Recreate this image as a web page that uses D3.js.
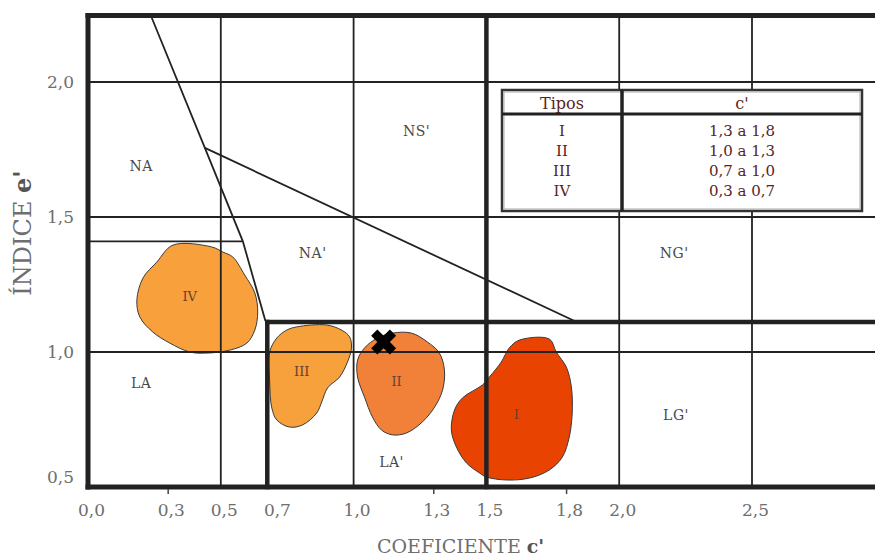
<!DOCTYPE html>
<html>
<head>
<meta charset="utf-8">
<script src="https://cdn.jsdelivr.net/npm/d3@7"></script>
<style>
  body { margin: 0; background: #fff; }
  text { font-family: "DejaVu Serif", "Liberation Serif", serif; }
</style>
</head>
<body>
<svg id="chart" width="875" height="556"></svg>
<script>
// MCT soil classification chart: coefficient c' against index e'

// axis ticks and grid
const xTickValues = [0, 0.3, 0.5, 0.7, 1.0, 1.3, 1.5, 1.8, 2.0, 2.5];
const xMinorTicks = [0.3, 1.3, 1.8];
const yTickValues = [0.5, 1.0, 1.5, 2.0];
const xGridValues = [0.5, 1.0, 2.0, 2.5];
const yGridValues = [1.0, 1.5, 2.0];

// group boundaries (c', e')
const boundaryNA = [[0.235, 2.25], [0.44, 1.756], [0.583, 1.41], [0.668, 1.115]];
const boundaryNS = [[0.44, 1.756], [1.84, 1.111]];
const boundaryLA = [[0, 1.41], [0.583, 1.41]];
const lateriticC = 0.675;   // left edge of the LA' / LG' block
const lateriticE = 1.111;   // top edge of the LA' / LG' block
const sandClayC = 1.5;

// group names
const regionNames = ["NA", "NA'", "NS'", "NG'", "LA", "LA'", "LG'"];
const regionC = [0.20, 0.846, 1.237, 2.207, 0.20, 1.143, 2.214];
const regionE = [1.69, 1.366, 1.819, 1.367, 0.885, 0.593, 0.767];

// soil types
const typeNames = ["I", "II", "III", "IV"];
const typeRanges = ["1,3 a 1,8", "1,0 a 1,3", "0,7 a 1,0", "0,3 a 0,7"];
const typeColors = ["#e84300", "#f18038", "#f6a13b", "#f7a03c"];
const typeLabelC = [1.613, 1.162, 0.805, 0.383];
const typeLabelE = [0.770, 0.889, 0.926, 1.204];

const outlineI = [[1.624,1.044],[1.737,1.048],[1.763,1.000],[1.801,0.944],[1.820,0.870],[1.823,0.774],
  [1.812,0.685],[1.786,0.611],[1.737,0.563],[1.662,0.533],[1.575,0.526],[1.500,0.537],[1.474,0.552],
  [1.425,0.589],[1.387,0.648],[1.368,0.711],[1.380,0.785],[1.410,0.830],[1.485,0.878],[1.511,0.907],
  [1.556,0.963],[1.586,1.015]];
const outlineII = [[1.147,1.070],[1.218,1.070],[1.278,1.037],[1.323,0.996],[1.342,0.933],[1.335,0.859],
  [1.305,0.796],[1.259,0.741],[1.199,0.700],[1.147,0.693],[1.105,0.711],[1.071,0.759],[1.041,0.833],
  [1.015,0.907],[1.015,0.970],[1.041,1.015],[1.090,1.052]];
const outlineIII = [[0.786,1.093],[0.898,1.100],[0.955,1.081],[0.985,1.056],[0.992,1.015],[0.977,0.963],
  [0.947,0.907],[0.902,0.867],[0.880,0.815],[0.861,0.774],[0.808,0.730],[0.759,0.722],[0.711,0.748],
  [0.692,0.793],[0.684,0.889],[0.684,1.000],[0.711,1.052],[0.748,1.081]];
const outlineIV = [[0.320,1.396],[0.466,1.389],[0.508,1.370],[0.545,1.352],[0.590,1.285],[0.628,1.219],
  [0.639,1.148],[0.628,1.081],[0.598,1.033],[0.534,1.007],[0.447,0.996],[0.383,1.000],[0.308,1.033],
  [0.244,1.074],[0.195,1.130],[0.184,1.193],[0.207,1.274],[0.259,1.333]];
const typeOutlines = [outlineI, outlineII, outlineIII, outlineIV];

// tested sample
const sampleC = 1.113;
const sampleE = 1.037;

const svg = d3.select("#chart");
const W = 875;

const x = d3.scaleLinear().domain([0, 2.5]).range([88, 752]);
const y = d3.scaleLinear().domain([0.5, 2.0]).range([487, 82]);
const cMax = x.invert(W + 4);
const eTop = 2.246;

const fmt = v => d3.format(".1f")(v).replace(".", ",");
const ink = "#222";

// soil type areas
const area = d3.line().x(d => x(d[0])).y(d => y(d[1])).curve(d3.curveCatmullRomClosed.alpha(0.5));
svg.append("g").selectAll("path")
  .data(typeOutlines)
  .join("path")
  .attr("d", area)
  .attr("fill", (d, i) => typeColors[i])
  .attr("stroke", "#3a3a3a")
  .attr("stroke-width", 1);

// grid
const grid = svg.append("g").attr("stroke", ink).attr("stroke-width", 1.8);
grid.selectAll(".v").data(xGridValues).join("line")
  .attr("x1", d => x(d)).attr("x2", d => x(d))
  .attr("y1", y(eTop)).attr("y2", y(0.5));
grid.selectAll(".h").data(yGridValues).join("line")
  .attr("x1", x(0)).attr("x2", x(cMax))
  .attr("y1", d => y(d)).attr("y2", d => y(d));

// boundaries between groups
const seg = d3.line().x(d => x(d[0])).y(d => y(d[1]));
svg.append("g").selectAll("path")
  .data([boundaryNA, boundaryNS, boundaryLA])
  .join("path")
  .attr("d", seg)
  .attr("fill", "none")
  .attr("stroke", ink)
  .attr("stroke-width", 1.8);

// heavy lines: lateritic block, c' = 1.5 and the frame
const heavy = svg.append("g").attr("stroke", ink).attr("stroke-width", 5).attr("stroke-linecap", "square");
heavy.append("line").attr("x1", x(lateriticC)).attr("x2", x(lateriticC)).attr("y1", y(lateriticE)).attr("y2", y(0.5)).attr("stroke-width", 4.5);
heavy.append("line").attr("x1", x(lateriticC)).attr("x2", x(cMax)).attr("y1", y(lateriticE)).attr("y2", y(lateriticE)).attr("stroke-width", 4.5);
heavy.append("line").attr("x1", x(sandClayC)).attr("x2", x(sandClayC)).attr("y1", y(eTop)).attr("y2", y(0.5)).attr("stroke-width", 4.5);
heavy.append("line").attr("x1", x(0)).attr("x2", x(0)).attr("y1", y(eTop)).attr("y2", y(0.5));
heavy.append("line").attr("x1", x(0)).attr("x2", x(cMax)).attr("y1", y(eTop)).attr("y2", y(eTop));
heavy.append("line").attr("x1", x(0)).attr("x2", x(cMax)).attr("y1", y(0.5)).attr("y2", y(0.5));

// axes
const xAxis = svg.append("g").attr("transform", `translate(0,${y(0.5) + 2})`)
  .call(d3.axisBottom(x).tickValues(xTickValues).tickFormat(fmt).tickSize(0).tickPadding(15));
xAxis.select(".domain").remove();
xAxis.selectAll("text").attr("dx", 3).attr("font-size", 17).attr("fill", "#6e6e6e")
  .attr("font-family", "Liberation Serif, serif");

const xMinor = svg.append("g").attr("transform", `translate(0,${y(0.5) + 2})`)
  .call(d3.axisBottom(x).tickValues(xMinorTicks).tickFormat("").tickSize(5));
xMinor.select(".domain").remove();
xMinor.selectAll("line").attr("stroke", "#444").attr("stroke-width", 1.5);

const yAxis = svg.append("g").attr("transform", `translate(${x(0) - 2},0)`)
  .call(d3.axisLeft(y).tickValues(yTickValues).tickFormat(fmt).tickSize(0).tickPadding(12));
yAxis.select(".domain").remove();
yAxis.selectAll("text").attr("font-size", 17).attr("fill", "#6e6e6e")
  .attr("font-family", "Liberation Serif, serif")
  .attr("dy", d => d === 0.5 ? "-0.25em" : "0.32em");

// axis titles
const xt = svg.append("text").attr("x", 377).attr("y", 553)
  .attr("font-family", "Liberation Serif, serif").attr("font-size", 19).attr("fill", "#6e6e6e");
xt.append("tspan").text("COEFICIENTE ");
xt.append("tspan").attr("font-weight", "bold").attr("fill", "#555").text("c'");

const yt = svg.append("text").attr("transform", "translate(31,233) rotate(-90)")
  .attr("text-anchor", "middle")
  .attr("font-family", "Liberation Serif, serif").attr("font-size", 24).attr("fill", "#6e6e6e");
yt.append("tspan").text("ÍNDICE ");
yt.append("tspan").attr("font-weight", "bold").attr("fill", "#555").text("e'");

// group names
svg.append("g").selectAll("text")
  .data(regionNames)
  .join("text")
  .attr("x", (d, i) => x(regionC[i]))
  .attr("y", (d, i) => y(regionE[i]))
  .attr("text-anchor", "middle")
  .attr("dominant-baseline", "central")
  .attr("font-size", 14)
  .attr("letter-spacing", 0.5)
  .attr("fill", "#4a4a4a")
  .text(d => d);

// soil type names
svg.append("g").selectAll("text")
  .data(typeNames)
  .join("text")
  .attr("x", (d, i) => x(typeLabelC[i]))
  .attr("y", (d, i) => y(typeLabelE[i]))
  .attr("text-anchor", "middle")
  .attr("dominant-baseline", "central")
  .attr("font-size", 13)
  .attr("fill", "#6a4030")
  .text(d => d);

// sample point
svg.append("path")
  .attr("d", d3.symbol(d3.symbolCross, 390)())
  .attr("transform", `translate(${x(sampleC)},${y(sampleE)}) rotate(45)`)
  .attr("fill", "#000");

// table of c' ranges
const tb = { x0: 502, x1: 862, xm: 622, y0: 90, yh: 114, y1: 211 };
const table = svg.append("g");
table.append("rect").attr("x", tb.x0).attr("y", tb.y0).attr("width", tb.x1 - tb.x0).attr("height", tb.y1 - tb.y0)
  .attr("fill", "#fff").attr("stroke", "#333").attr("stroke-width", 2.5);
table.append("rect").attr("x", tb.x0 + 2).attr("y", tb.y0 + 2).attr("width", tb.x1 - tb.x0 - 4).attr("height", tb.y1 - tb.y0 - 4)
  .attr("fill", "none").attr("stroke", "#aaa").attr("stroke-width", 1);
table.append("line").attr("x1", tb.x0).attr("x2", tb.x1).attr("y1", tb.yh).attr("y2", tb.yh)
  .attr("stroke", "#222").attr("stroke-width", 3);
table.append("line").attr("x1", tb.xm).attr("x2", tb.xm).attr("y1", tb.y0).attr("y2", tb.y1)
  .attr("stroke", "#222").attr("stroke-width", 3.5);
const tcol = "#5a2323";
table.append("text").attr("x", (tb.x0 + tb.xm) / 2).attr("y", 103).attr("text-anchor", "middle")
  .attr("dominant-baseline", "central").attr("font-size", 16).attr("fill", tcol).text("Tipos");
table.append("text").attr("x", (tb.xm + tb.x1) / 2).attr("y", 103).attr("text-anchor", "middle")
  .attr("dominant-baseline", "central").attr("font-size", 16).attr("fill", tcol).text("c'");
const rowY = d3.scalePoint().domain(typeNames).range([131, 191]);
table.selectAll(".tn").data(typeNames).join("text")
  .attr("x", (tb.x0 + tb.xm) / 2).attr("y", d => rowY(d))
  .attr("text-anchor", "middle").attr("dominant-baseline", "central")
  .attr("font-size", 15).attr("fill", tcol).text(d => d);
table.selectAll(".tr").data(typeRanges).join("text")
  .attr("x", (tb.xm + tb.x1) / 2).attr("y", (d, i) => rowY(typeNames[i]))
  .attr("text-anchor", "middle").attr("dominant-baseline", "central")
  .attr("font-size", 15).attr("fill", tcol).text(d => d);
</script>
</body>
</html>
